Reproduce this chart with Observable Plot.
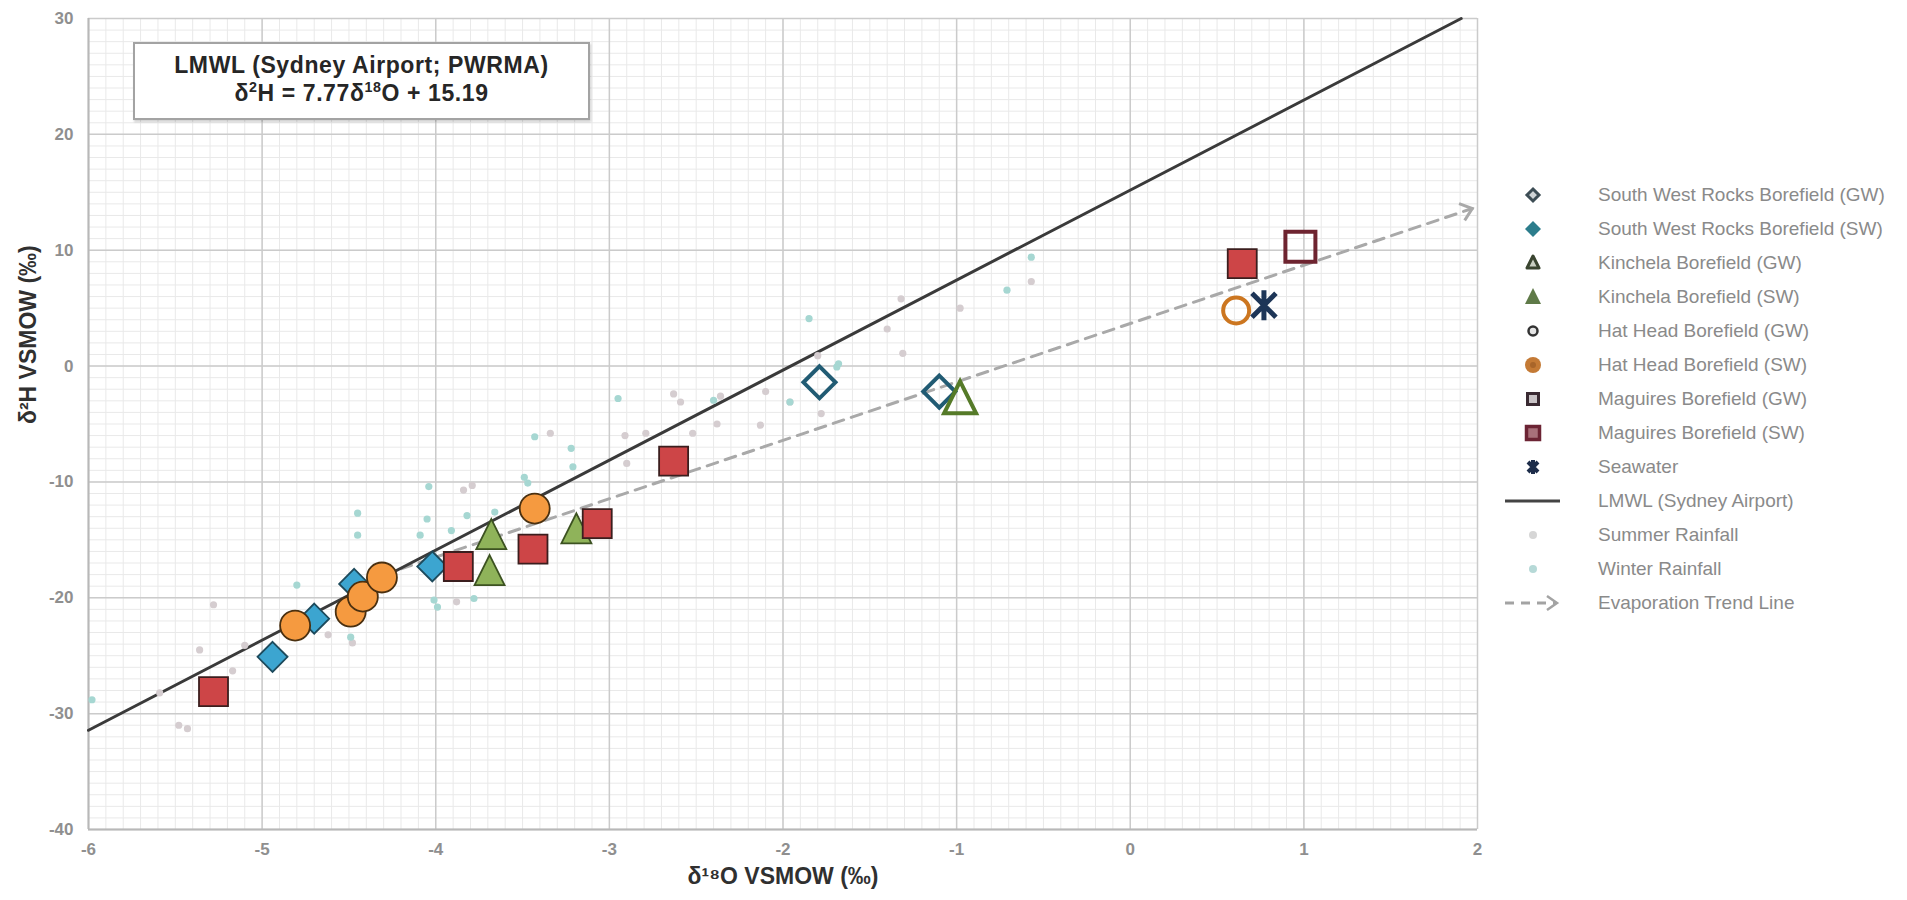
<!DOCTYPE html>
<html><head><meta charset="utf-8">
<script src="https://cdn.jsdelivr.net/npm/d3@7"></script>
<script src="https://cdn.jsdelivr.net/npm/@observablehq/plot@0.6"></script>
<style>
body{margin:0;background:#fff;font-family:"Liberation Sans",Arial,sans-serif;}
#wrap{position:relative;width:1907px;height:900px;overflow:hidden;}
#note{position:absolute;left:133px;top:42px;width:457px;height:78px;box-sizing:border-box;border:2px solid #a3a3a3;background:#fff;box-shadow:1px 2px 2px rgba(0,0,0,0.18);text-align:center;font-weight:bold;color:#262626;font-size:23px;letter-spacing:0.6px;padding-top:7px;line-height:28px;}
#note sup{font-size:62%;line-height:0;}
#legend{position:absolute;left:1500px;top:178px;}
.row{height:34px;display:flex;align-items:center;}
.row svg{width:70px;height:34px;flex:none;}
.row span{margin-left:28px;font-size:19px;color:#8a8a8a;white-space:nowrap;}
</style></head>
<body>
<div id="wrap">
  <div id="chart"></div>
  <div id="note">LMWL (Sydney Airport; PWRMA)<br>δ<sup>2</sup>H = 7.77δ<sup>18</sup>O + 15.19</div>
  <div id="legend"></div>
</div>
<script>
// ---------- axis ticks ----------
const xTicks = [-6, -5, -4, -3, -2, -1, 0, 1, 2];
const yTicks = [-40, -30, -20, -10, 0, 10, 20, 30];

// ---------- series (δ18O, δ2H) ----------
const swrGW_x = [-1.79, -1.10];
const swrGW_y = [-1.4, -2.2];
const swrSW_x = [-4.94, -4.70, -4.47, -4.02];
const swrSW_y = [-25.1, -21.8, -18.8, -17.3];
const kinGW_x = [-0.98];
const kinGW_y = [-2.9];
const kinSW_x = [-3.69, -3.68, -3.19];
const kinSW_y = [-17.8, -14.7, -14.2];
const hatGW_x = [0.61];
const hatGW_y = [4.8];
const hatSW_x = [-4.81, -4.49, -4.42, -4.31, -3.43];
const hatSW_y = [-22.4, -21.2, -19.9, -18.25, -12.3];
const magGW_x = [0.98];
const magGW_y = [10.3];
const magSW_x = [-5.28, -3.87, -3.44, -3.07, -2.63, 0.645];
const magSW_y = [-28.1, -17.3, -15.8, -13.6, -8.2, 8.85];
const sea_x = [0.77];
const sea_y = [5.25];

const summer_x = [-5.43, -5.48, -5.59, -5.36, -5.28, -5.17, -5.10, -4.62, -4.48, -3.88, -3.84, -3.79, -3.34, -2.91, -2.79, -2.90, -2.63, -2.59, -2.52, -2.36, -2.38, -2.13, -2.10, -1.96, -1.78, -1.80, -1.40, -1.32, -1.31, -0.98, -0.57];
const summer_y = [-31.3, -31.0, -28.2, -24.5, -20.6, -26.3, -24.1, -23.2, -23.9, -20.35, -10.7, -10.3, -5.8, -6.0, -5.8, -8.4, -2.4, -3.1, -5.8, -2.6, -5.0, -5.1, -2.2, -3.1, -4.1, 0.9, 3.2, 5.8, 1.1, 5.0, 7.3];
const winter_x = [-5.98, -4.80, -4.49, -4.45, -4.45, -4.04, -4.05, -4.09, -3.99, -4.01, -3.78, -3.82, -3.66, -3.91, -3.49, -3.47, -3.43, -3.22, -3.21, -2.95, -2.40, -1.96, -1.69, -1.68, -1.85, -0.71, -0.57];
const winter_y = [-28.8, -18.9, -23.4, -12.7, -14.6, -10.4, -13.2, -14.6, -20.8, -20.2, -20.06, -12.9, -12.6, -14.2, -9.6, -10.1, -6.1, -7.1, -8.7, -2.8, -2.95, -3.1, -0.07, 0.2, 4.1, 6.55, 9.4];

// LMWL (δ2H = 7.77δ18O + 15.19) drawn between its end points in the frame
const lmwl_x = [-6, 1.906];
const lmwl_y = [-31.43, 30];
// evaporation trend line end points
const evap_x = [-4.2, 1.97];
const evap_y = [-17.5, 13.6];

const legendLabels = ["South West Rocks Borefield (GW)", "South West Rocks Borefield (SW)", "Kinchela Borefield (GW)", "Kinchela Borefield (SW)", "Hat Head Borefield (GW)", "Hat Head Borefield (SW)", "Maguires Borefield (GW)", "Maguires Borefield (SW)", "Seawater", "LMWL (Sydney Airport)", "Summer Rainfall", "Winter Rainfall", "Evaporation Trend Line"];

// ---------- helpers ----------
const rows = (xs, ys) => xs.map((x, i) => ({x, y: ys[i]}));
const half = s => Math.sqrt(s / Math.PI);
const symSquare = {draw(c, s){const r = half(s); c.moveTo(-r,-r); c.lineTo(r,-r); c.lineTo(r,r); c.lineTo(-r,r); c.closePath();}};
const symDiamond = {draw(c, s){const r = half(s); c.moveTo(0,-r); c.lineTo(r,0); c.lineTo(0,r); c.lineTo(-r,0); c.closePath();}};
const symTriangle = {draw(c, s){const r = half(s); c.moveTo(0,-1.15*r); c.lineTo(r,0.85*r); c.lineTo(-r,0.85*r); c.closePath();}};
const symCircle = {draw(c, s){const r = half(s); c.moveTo(r,0); c.arc(0,0,r,0,2*Math.PI); c.closePath();}};
const symStar = {draw(c, s){const r = half(s), k = 0.8*r; c.moveTo(-k,-k); c.lineTo(k,k); c.moveTo(k,-k); c.lineTo(-k,k); c.moveTo(0,-r); c.lineTo(0,r);}};
const symChevron = {draw(c, s){const r = half(s); c.moveTo(-r,-0.8*r); c.lineTo(0,0); c.lineTo(-r,0.8*r);}};

const W = 1907, H = 900, mL = 88, mR = 430, mT = 18, mB = 71;
const xDom = [xTicks[0], xTicks[xTicks.length-1]];
const yDom = [yTicks[0], yTicks[yTicks.length-1]];
// arrowhead orientation in screen space
const sx = d3.scaleLinear(xDom, [mL, W - mR]);
const sy = d3.scaleLinear(yDom, [H - mB, mT]);
const n = evap_x.length - 1;
const arrowAngle = Math.atan2(sy(evap_y[n]) - sy(evap_y[n-1]), sx(evap_x[n]) - sx(evap_x[n-1])) * 180 / Math.PI;

const filled = (xs, ys, symbol, r, fill, stroke) => Plot.dot(rows(xs, ys), {x: "x", y: "y", symbol, r, fill, stroke, strokeWidth: 1.8});
const hollow = (xs, ys, symbol, r, stroke, sw = 4) => Plot.dot(rows(xs, ys), {x: "x", y: "y", symbol, r, fill: "none", stroke, strokeWidth: sw});

const chart = Plot.plot({
  width: W, height: H,
  marginLeft: mL, marginRight: mR, marginTop: mT, marginBottom: mB,
  style: {fontFamily: "'Liberation Sans', Arial, sans-serif", background: "#fff"},
  x: {domain: xDom},
  y: {domain: yDom},
  marks: [
    Plot.gridX({ticks: d3.range(-60, 21, 1).map(v => v / 10), stroke: "#e9e9e9", strokeOpacity: 1, strokeWidth: 1}),
    Plot.gridY({ticks: d3.range(-40, 31, 1), stroke: "#e9e9e9", strokeOpacity: 1, strokeWidth: 1}),
    Plot.gridX({ticks: xTicks, stroke: "#cbcbcb", strokeOpacity: 1, strokeWidth: 1.5}),
    Plot.gridY({ticks: yTicks, stroke: "#cbcbcb", strokeOpacity: 1, strokeWidth: 1.5}),
    Plot.ruleX([xDom[0]], {stroke: "#b8b8b8", strokeWidth: 2}),
    Plot.ruleY([yDom[0]], {stroke: "#b8b8b8", strokeWidth: 2}),
    Plot.axisX({ticks: xTicks, tickSize: 0, tickPadding: 13, tickFormat: d => String(d), fontSize: 17, fontWeight: "bold", fill: "#8f8f8f", label: null}),
    Plot.axisY({ticks: yTicks, tickSize: 0, tickPadding: 15, tickFormat: d => String(d), fontSize: 17, fontWeight: "bold", fill: "#8f8f8f", label: null}),
    Plot.text(["δ¹⁸O VSMOW (‰)"], {frameAnchor: "bottom", dy: 54, fontSize: 23, fontWeight: "bold", fill: "#303030", letterSpacing: "0.8px"}),
    Plot.text(["δ²H VSMOW (‰)"], {frameAnchor: "left", dx: -60, rotate: -90, fontSize: 23, fontWeight: "bold", fill: "#303030", letterSpacing: "0.8px"}),
    // lines
    Plot.line(rows(evap_x, evap_y), {x: "x", y: "y", stroke: "#a9a9a9", strokeWidth: 3, strokeDasharray: "11,8"}),
    Plot.dot([{x: evap_x[n], y: evap_y[n]}], {x: "x", y: "y", symbol: symChevron, r: 11, fill: "none", stroke: "#a9a9a9", strokeWidth: 3, rotate: arrowAngle}),
    Plot.line(rows(lmwl_x, lmwl_y), {x: "x", y: "y", stroke: "#3a3a3a", strokeWidth: 3}),
    // rainfall
    Plot.dot(rows(summer_x, summer_y), {x: "x", y: "y", r: 3.6, fill: "#d5cdd0", stroke: "none"}),
    Plot.dot(rows(winter_x, winter_y), {x: "x", y: "y", r: 3.6, fill: "#a6d7d2", stroke: "none"}),
    // borefields
    hollow(swrGW_x, swrGW_y, symDiamond, 16, "#215b73"),
    filled(swrSW_x, swrSW_y, symDiamond, 15, "#3ca5d0", "#1d4a5c"),
    hollow(kinGW_x, kinGW_y, symTriangle, 16, "#557a28"),
    filled(kinSW_x, kinSW_y, symTriangle, 15, "#8fb35a", "#3c5221"),
    hollow(hatGW_x, hatGW_y, symCircle, 13, "#cc7620"),
    filled(hatSW_x, hatSW_y, symCircle, 15, "#f59a40", "#4a3010"),
    hollow(magGW_x, magGW_y, symSquare, 15, "#6e2430"),
    filled(magSW_x, magSW_y, symSquare, 14.5, "#cd4547", "#3b1e1e"),
    hollow(sea_x, sea_y, symStar, 15, "#1d3557", 5)
  ]
});
document.getElementById("chart").appendChild(chart);

// ---------- legend ----------
const sw = [
  `<path d="M33,11 L39,17 L33,23 L27,17Z" fill="#cfd4d6" stroke="#3d4d55" stroke-width="3"/>`,
  `<path d="M33,9 L41,17 L33,25 L25,17Z" fill="#2c7d8c"/>`,
  `<path d="M33,10 L39,22 L27,22Z" fill="#c9cfc2" stroke="#3a4530" stroke-width="3" stroke-linejoin="round"/>`,
  `<path d="M33,8 L41,24 L25,24Z" fill="#5f7a48"/>`,
  `<circle cx="33" cy="17" r="4.5" fill="#e6e6e6" stroke="#333" stroke-width="2.5"/>`,
  `<circle cx="33" cy="17" r="8" fill="#c47a35"/><circle cx="33" cy="17" r="3" fill="#a8652a"/>`,
  `<rect x="27.5" y="11.5" width="11" height="11" fill="#c9c3c6" stroke="#3a2a32" stroke-width="3"/>`,
  `<rect x="26.5" y="10.5" width="13" height="13" fill="#a8707a" stroke="#6c2434" stroke-width="3.5"/>`,
  `<path d="M28,12 L38,22 M38,12 L28,22 M33,10 L33,24" stroke="#1d2d4a" stroke-width="4"/>`,
  `<line x1="5" y1="17" x2="60" y2="17" stroke="#444" stroke-width="3"/>`,
  `<circle cx="33" cy="17" r="4" fill="#d6d6d6"/>`,
  `<circle cx="33" cy="17" r="4" fill="#b6d9d7"/>`,
  `<line x1="5" y1="17" x2="56" y2="17" stroke="#a3a3a3" stroke-width="3" stroke-dasharray="9,7"/><path d="M47,10 L57,17 L47,24" fill="none" stroke="#a3a3a3" stroke-width="2.5"/>`
];
const leg = document.getElementById("legend");
legendLabels.forEach((lab, i) => {
  const r = document.createElement("div");
  r.className = "row";
  r.innerHTML = `<svg viewBox="0 0 70 34">${sw[i]}</svg><span>${lab}</span>`;
  leg.appendChild(r);
});
</script>
</body></html>
